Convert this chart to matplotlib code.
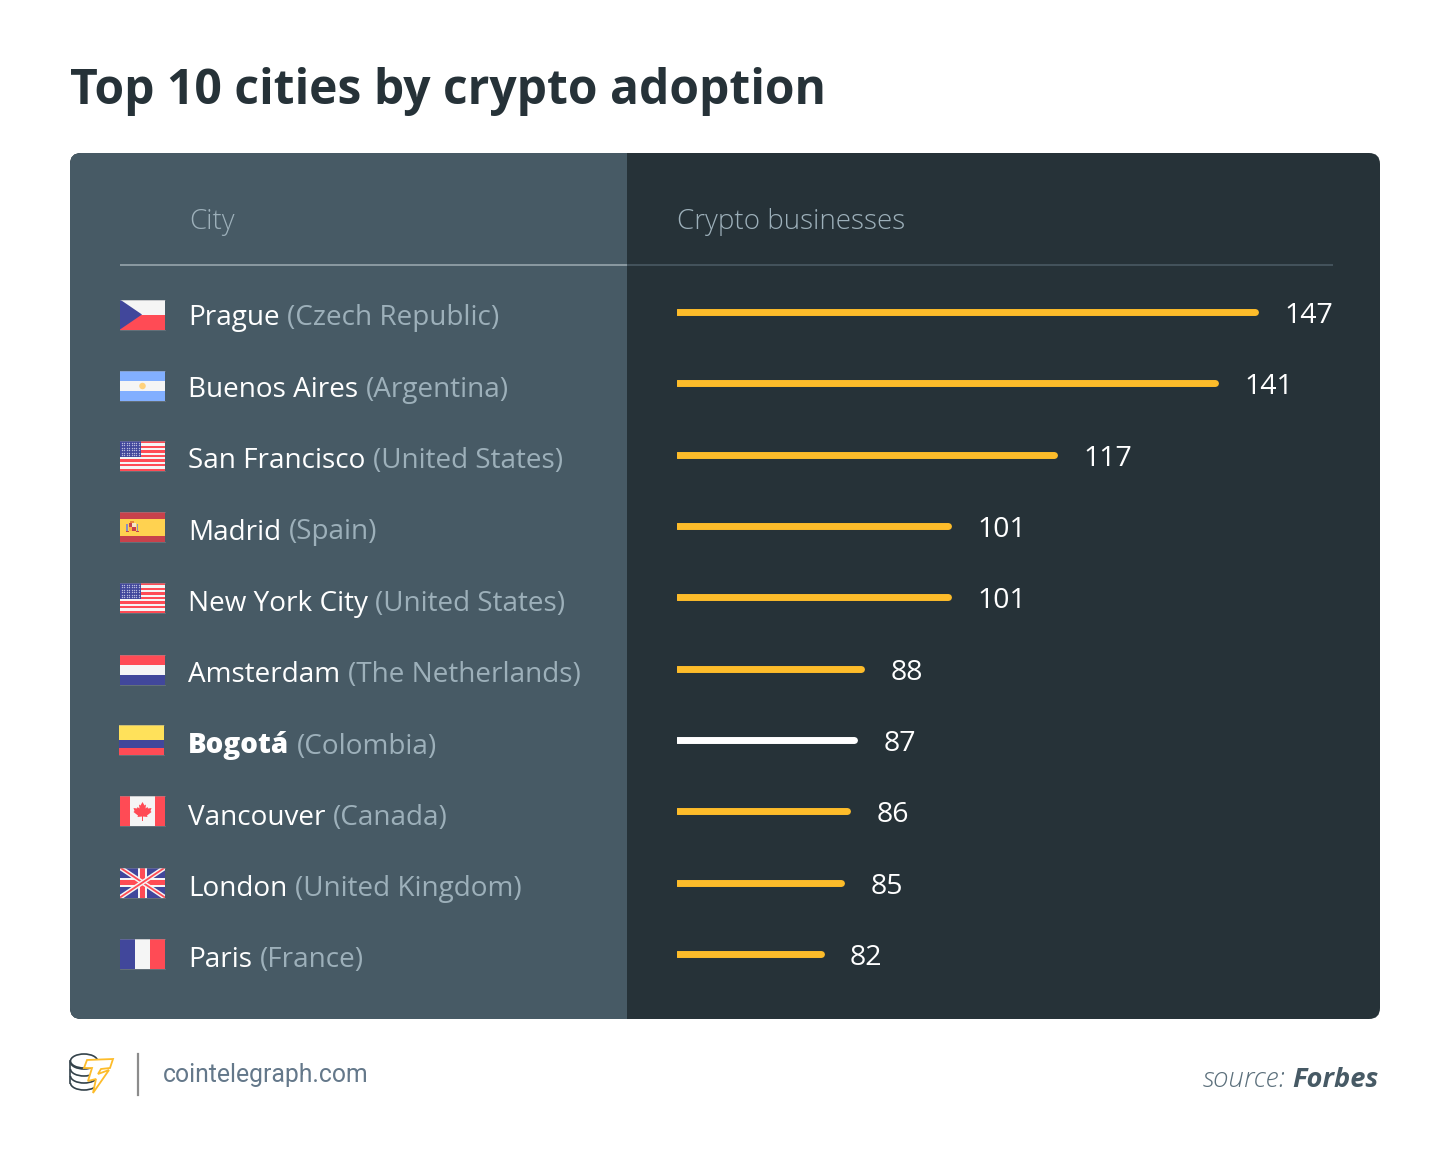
import matplotlib
matplotlib.use('Agg')
import matplotlib.pyplot as plt
from matplotlib.patches import FancyBboxPatch, Rectangle, Polygon, Ellipse, Arc

plt.rcParams['font.family'] = ['Open Sans', 'DejaVu Sans']

cities = ['Prague', 'Buenos Aires', 'San Francisco', 'Madrid', 'New York City',
          'Amsterdam', 'Bogotá', 'Vancouver', 'London', 'Paris']
countries = ['(Czech Republic)', '(Argentina)', '(United States)', '(Spain)', '(United States)',
             '(The Netherlands)', '(Colombia)', '(Canada)', '(United Kingdom)', '(France)']
businesses = [147, 141, 117, 101, 101, 88, 87, 86, 85, 82]
flags = ['cz', 'ar', 'us', 'es', 'us', 'nl', 'co', 'ca', 'uk', 'fr']
highlight = 'Bogotá'

RED = '#ff4b55'
BLUE = '#41479b'
WHITE = '#f5f5f5'
YELLOW = '#ffe15a'
SKY = '#82afff'
LEFT = '#475a65'
RIGHT = '#263238'
BAR = '#fdbc2a'
MUTED = '#9db0ba'

fig = plt.figure(figsize=(14.5, 11.66), dpi=100, facecolor='white')

# page axes, one unit is one pixel
page = fig.add_axes([0, 0, 1, 1])
page.set_xlim(0, 1450)
page.set_ylim(1166, 0)
page.axis('off')


def draw_flag(code, x, y, w=45, h=30):
    def rect(x0, y0, rw, rh, color):
        page.add_patch(Rectangle((x + x0, y + y0), rw, rh, color=color, lw=0))

    if code == 'cz':
        rect(0, 0, w, h / 2, WHITE)
        rect(0, h / 2, w, h / 2, RED)
        page.add_patch(Polygon([(x, y), (x + 22, y + h / 2), (x, y + h)], color=BLUE, lw=0))
    elif code == 'ar':
        rect(0, 0, w, h, SKY)
        rect(0, 10, w, 10, WHITE)
        page.add_patch(Ellipse((x + 22.5, y + 15), 6.5, 6.5, color='#ffd27d', lw=0))
    elif code == 'us':
        rect(0, 0, w, h, WHITE)
        for i in range(0, 13, 2):
            rect(0, i * h / 13, w, h / 13, RED)
        rect(0, 0, 21, 16, BLUE)
        xs = [x + 2 + 2.4 * i for i in range(8)]
        ys = [y + 2 + 2.4 * j for j in range(6)]
        page.scatter([a for a in xs for b in ys], [b for a in xs for b in ys],
                     s=1.0, color='#b9bcdd', lw=0)
    elif code == 'es':
        rect(0, 0, w, h, '#c8414b')
        rect(0, 6.5, w, 17, '#ffd250')
        rect(9, 11, 7, 8, '#c8414b')
        rect(12.5, 11, 3.5, 4, '#f5e6c8')
        rect(9, 15, 3.5, 4, '#ffb441')
        rect(10.5, 8.5, 4, 2.5, '#e8853c')
        rect(6.5, 12, 1.2, 6.5, '#8a8fc0')
        rect(17, 12, 1.2, 6.5, '#8a8fc0')
        rect(6, 18.5, 3, 1.2, '#c8414b')
        rect(16, 18.5, 3, 1.2, '#c8414b')
    elif code == 'nl':
        rect(0, 0, w, 10, RED)
        rect(0, 10, w, 10, WHITE)
        rect(0, 20, w, 10, BLUE)
    elif code == 'co':
        rect(0, 0, w, 15, YELLOW)
        rect(0, 15, w, 7.5, BLUE)
        rect(0, 22.5, w, 7.5, RED)
    elif code == 'ca':
        rect(0, 0, w, h, WHITE)
        rect(0, 0, 10, h, RED)
        rect(35, 0, 10, h, RED)
        cx, cy = x + 22.5, y + 14
        leaf = [(0, -8), (2, -4.5), (3.5, -5.5), (3, -1.5), (5, -3), (5.5, -1.5), (9, -2),
                (8, 1), (9, 2), (4.5, 5.5), (5, 7), (0.5, 6.5), (-0.5, 6.5), (-5, 7), (-4.5, 5.5),
                (-9, 2), (-8, 1), (-9, -2), (-5.5, -1.5), (-5, -3), (-3, -1.5), (-3.5, -5.5), (-2, -4.5)]
        page.add_patch(Polygon([(cx + a, cy + b) for a, b in leaf], color=RED, lw=0))
        rect(22, 19, 1, 6, RED)
    elif code == 'uk':
        bg = Rectangle((x, y), w, h, color=BLUE, lw=0)
        page.add_patch(bg)
        for (a, b), (c, d) in [((x, y), (x + w, y + h)), ((x, y + h), (x + w, y))]:
            ln, = page.plot([a, c], [b, d], color=WHITE, lw=3.4, solid_capstyle='butt')
            ln.set_clip_path(bg)
            ln, = page.plot([a, c], [b, d], color=RED, lw=1.3, solid_capstyle='butt')
            ln.set_clip_path(bg)
        rect(0, 10.5, w, 9, WHITE)
        rect(18, 0, 9, h, WHITE)
        rect(0, 12.5, w, 5, RED)
        rect(20, 0, 5, h, RED)
    elif code == 'fr':
        rect(0, 0, 15, h, BLUE)
        rect(15, 0, 15, h, WHITE)
        rect(30, 0, 15, h, RED)
    # thin grey rim on the top and bottom edges
    page.plot([x, x + w], [y, y], color='#8a8f96', lw=0.6, alpha=0.5)
    page.plot([x, x + w], [y + h, y + h], color='#8a8f96', lw=0.6, alpha=0.5)


# panel
panel = FancyBboxPatch((70, 153), 1310, 866, boxstyle='round,pad=0,rounding_size=11',
                       fc=RIGHT, ec='none')
page.add_patch(panel)
left_part = Rectangle((70, 153), 557, 866, fc=LEFT, ec='none')
page.add_patch(left_part)
left_part.set_clip_path(panel)

page.plot([120, 627], [265, 265], color='#8b9aa2', lw=1.4, solid_capstyle='butt')
page.plot([627, 1333], [265, 265], color='#44535c', lw=1.4, solid_capstyle='butt')

page.text(189.5, 229, 'City', color=MUTED, fontsize=20, fontweight='light', va='baseline')
page.text(677, 229, 'Crypto businesses', color=MUTED, fontsize=20, fontweight='light', va='baseline')

page.text(70, 104.5, 'Top 10 cities by crypto adoption', color=RIGHT, fontsize=34.55,
          fontweight='bold', va='baseline')

# rows of the left column
renderer = fig.canvas.get_renderer()
flag_y = [299.5, 371, 441, 512, 583, 654.5, 725, 796, 867.5, 938.5]
label_y = [325.5, 397, 468.5, 539.5, 611, 682.5, 753.5, 825, 896, 967]
for i, city in enumerate(cities):
    flag_x = 119 if city == highlight else 120
    draw_flag(flags[i], flag_x, flag_y[i])
    t = page.text(188, label_y[i], city, color='white', fontsize=20.1, va='baseline',
                  fontweight=800 if city == highlight else 'normal')
    end = t.get_window_extent(renderer).x1
    page.text(end + 7.5, label_y[i], countries[i], color=MUTED, fontsize=20.1, va='baseline')

# bars, the value scale starts at 60
ax = fig.add_axes([677 / 1450, (1166 - 1019) / 1166, 703 / 1450, 866 / 1166])
ax.patch.set_alpha(0)
ax.axis('off')
ax.set_xlim(60.5, 60.5 + 703 / 6.68)
ax.set_ylim(9.911, -2.229)
for i, value in enumerate(businesses):
    color = 'white' if cities[i] == highlight else BAR
    ax.plot([60.5, value], [i, i], color=color, lw=5, solid_capstyle='round')
    ax.annotate(str(value), xy=(value, i), xytext=(29.5, -11), textcoords='offset pixels',
                color='white', fontsize=20.5, va='baseline')

# footer
page.plot([138.5, 138.5], [1054, 1095], color='#8c8c8c', lw=1.6)
page.text(163, 1082, 'cointelegraph.com', color='#64788a', fontsize=17.8, family='Roboto',
          va='baseline')

# logo: coin stack and lightning T
for cy in [1062, 1069, 1076, 1083]:
    page.add_patch(Arc((84, cy), 27, 14, theta1=0, theta2=180, color='#33424a', lw=1.2))
page.add_patch(Ellipse((84, 1061), 27, 14, fc='white', ec='#33424a', lw=1.2))
page.plot([70.5, 70.5], [1061, 1083], color='#33424a', lw=1.2)
bolt = [(87, 1060), (113, 1059), (110, 1068), (101, 1069), (98, 1074), (109, 1070),
        (93, 1093), (96, 1079), (88, 1081), (92, 1068), (84, 1068)]
page.add_patch(Polygon(bolt, fc='white', ec=BAR, lw=1.3, joinstyle='miter'))

s = page.text(1379, 1087, 'Forbes', color='#475a65', fontsize=19.6, fontweight='bold',
              fontstyle='italic', ha='right', va='baseline')
x0 = s.get_window_extent(renderer).x0
page.text(x0 - 7, 1087, 'source:', color='#5c707c', fontsize=20, fontstyle='italic',
          fontweight='light', ha='right', va='baseline')

fig.savefig('out.png', dpi=100, facecolor='white')
